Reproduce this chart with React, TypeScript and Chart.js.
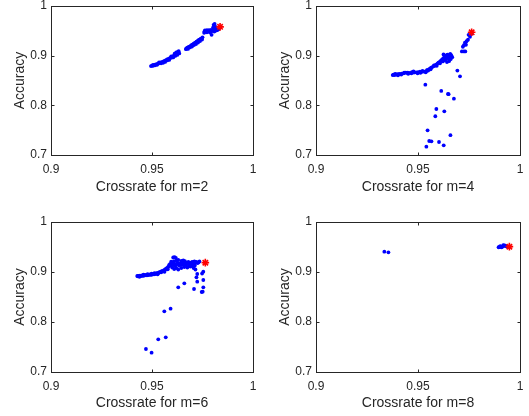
import React, { useEffect, useRef } from 'react';
import { Chart, registerables } from 'chart.js';
Chart.register(...registerables);

// ---------- data ----------
const xTicks = [0.9, 0.95, 1];
const xTickLabels = ['0.9', '0.95', '1'];
const yTicks = [0.7, 0.8, 0.9, 1];
const yTickLabels = ['0.7', '0.8', '0.9', '1'];
const yAxisLabel = 'Accuracy';
const xAxisLabels = ['Crossrate for m=2', 'Crossrate for m=4', 'Crossrate for m=6', 'Crossrate for m=8'];

const m2Points: number[][] = [
  [0.9495, 0.879], [0.95, 0.880], [0.9505, 0.8795], [0.951, 0.881], [0.9515, 0.882], [0.952, 0.8825],
  [0.9525, 0.883], [0.953, 0.884], [0.9535, 0.8845], [0.954, 0.886], [0.9545, 0.8865], [0.955, 0.887],
  [0.9555, 0.888], [0.956, 0.889], [0.9565, 0.890], [0.957, 0.891], [0.9575, 0.8925], [0.958, 0.893],
  [0.9585, 0.894], [0.959, 0.8955], [0.9595, 0.896], [0.96, 0.898], [0.9605, 0.899], [0.961, 0.9005],
  [0.9615, 0.902], [0.962, 0.903], [0.9625, 0.905], [0.963, 0.906], [0.9632, 0.909], [0.9628, 0.9075],
  [0.9668, 0.913], [0.967, 0.9145], [0.9675, 0.916], [0.968, 0.917], [0.9685, 0.918], [0.969, 0.919],
  [0.9695, 0.921], [0.97, 0.922], [0.9705, 0.9235], [0.971, 0.925], [0.9715, 0.926], [0.972, 0.928],
  [0.9725, 0.929], [0.973, 0.931], [0.9735, 0.932], [0.974, 0.934], [0.9745, 0.935], [0.975, 0.937],
  [0.9758, 0.946], [0.976, 0.949], [0.9765, 0.948], [0.977, 0.950], [0.9775, 0.949], [0.978, 0.950],
  [0.9785, 0.948], [0.979, 0.950], [0.9795, 0.9495], [0.98, 0.950], [0.9805, 0.951], [0.981, 0.950],
  [0.9815, 0.9505], [0.982, 0.951], [0.9825, 0.952], [0.983, 0.953], [0.9795, 0.942], [0.9805, 0.962],
  [0.981, 0.964], [0.9815, 0.958], [0.9802, 0.9565],
  [0.9505, 0.8815], [0.9515, 0.8805], [0.9525, 0.8815], [0.9535, 0.8865], [0.9545, 0.8845], [0.9555, 0.8855],
  [0.9565, 0.8875], [0.9575, 0.8905], [0.9585, 0.8915], [0.9595, 0.8985], [0.9605, 0.8965], [0.9615, 0.8995],
  [0.9625, 0.9015], [0.9635, 0.9045], [0.9612, 0.904], [0.962, 0.9065], [0.9678, 0.9135], [0.9688, 0.9165],
  [0.9698, 0.9185], [0.9708, 0.9215], [0.9718, 0.9235], [0.9728, 0.9265], [0.9738, 0.9295], [0.9748, 0.9325],
  [0.9762, 0.951], [0.9772, 0.9515], [0.9782, 0.9515], [0.9792, 0.952], [0.9772, 0.947], [0.9788, 0.9465],
  [0.981, 0.9525], [0.9822, 0.9535], [0.9808, 0.9485],
];
const m2Best: number[][] = [[0.9837, 0.958]];

const m4Points: number[][] = [
  [0.9376, 0.861], [0.938, 0.862], [0.9385, 0.861], [0.939, 0.8625], [0.9395, 0.862], [0.94, 0.863],
  [0.9405, 0.8625], [0.941, 0.8635], [0.942, 0.864], [0.943, 0.8645], [0.944, 0.866], [0.9445, 0.8655],
  [0.945, 0.866], [0.946, 0.8655], [0.947, 0.867], [0.948, 0.866], [0.949, 0.8665], [0.95, 0.867],
  [0.951, 0.868], [0.952, 0.8675], [0.953, 0.868], [0.954, 0.869], [0.955, 0.870], [0.9555, 0.873],
  [0.956, 0.8745], [0.9565, 0.876], [0.957, 0.877], [0.958, 0.879], [0.9585, 0.881], [0.959, 0.882],
  [0.9595, 0.884], [0.96, 0.886], [0.9605, 0.887], [0.961, 0.889], [0.9615, 0.891], [0.962, 0.893],
  [0.9625, 0.895], [0.963, 0.897], [0.9635, 0.899], [0.964, 0.901], [0.9645, 0.902], [0.9625, 0.9025],
  [0.9632, 0.891], [0.9648, 0.896], [0.9655, 0.899], [0.966, 0.893], [0.9652, 0.889], [0.9642, 0.887],
  [0.9663, 0.901], [0.9668, 0.897],
  [0.9388, 0.8635], [0.9402, 0.8605], [0.9418, 0.862], [0.9432, 0.866], [0.9452, 0.8635], [0.9468, 0.8645],
  [0.9478, 0.8685], [0.9498, 0.8645], [0.9512, 0.8655], [0.9522, 0.8695], [0.9538, 0.8665], [0.9545, 0.8715],
  [0.9562, 0.8725], [0.9578, 0.8805], [0.9592, 0.8795], [0.9608, 0.8845], [0.9622, 0.8885], [0.9638, 0.8935],
  [0.9658, 0.9035], [0.9652, 0.8945],
  [0.9715, 0.9085], [0.9725, 0.9085], [0.9732, 0.9085], [0.972, 0.918], [0.9725, 0.921], [0.9735, 0.922],
  [0.973, 0.926], [0.9738, 0.929], [0.9745, 0.932], [0.9755, 0.938], [0.9748, 0.942], [0.9763, 0.944],
  [0.9693, 0.870], [0.9706, 0.8585], [0.9536, 0.8416], [0.9614, 0.829], [0.9647, 0.823], [0.965, 0.8225],
  [0.9676, 0.8134], [0.959, 0.7926], [0.9629, 0.788], [0.9585, 0.778], [0.9547, 0.7497], [0.9659, 0.740],
  [0.9555, 0.7282], [0.9566, 0.7275], [0.9603, 0.7262], [0.9541, 0.7167], [0.9626, 0.7195],
];
const m4Best: number[][] = [[0.9763, 0.947]];

const m6Points: number[][] = [
  [0.9427, 0.892], [0.943, 0.8915], [0.9435, 0.892], [0.944, 0.8925], [0.9445, 0.892], [0.945, 0.893],
  [0.9455, 0.8925], [0.946, 0.893], [0.9465, 0.8935], [0.947, 0.894], [0.9475, 0.8935], [0.948, 0.894],
  [0.9485, 0.8945], [0.949, 0.895], [0.9495, 0.8945], [0.95, 0.895], [0.9505, 0.896], [0.951, 0.8955],
  [0.9515, 0.896], [0.952, 0.897], [0.9525, 0.8975], [0.953, 0.898], [0.9535, 0.899], [0.954, 0.900],
  [0.9545, 0.8995], [0.955, 0.901], [0.9555, 0.902], [0.956, 0.9035], [0.9565, 0.905], [0.957, 0.9065],
  [0.9575, 0.908], [0.958, 0.910], [0.9585, 0.912], [0.959, 0.9135],
  [0.9438, 0.8905], [0.9458, 0.8945], [0.9478, 0.8955], [0.9498, 0.8965], [0.9512, 0.8975], [0.9528, 0.8955],
  [0.9548, 0.9015], [0.9562, 0.9005], [0.9578, 0.9055],
  [0.9585, 0.914], [0.959, 0.916], [0.9595, 0.915], [0.96, 0.917], [0.9605, 0.914], [0.961, 0.916],
  [0.9615, 0.913], [0.962, 0.915], [0.9625, 0.918], [0.963, 0.916], [0.9635, 0.913], [0.964, 0.917],
  [0.9645, 0.915], [0.965, 0.918], [0.9655, 0.914], [0.966, 0.916], [0.9665, 0.919], [0.967, 0.915],
  [0.9675, 0.917], [0.968, 0.920], [0.9685, 0.918], [0.969, 0.916], [0.9695, 0.919], [0.97, 0.920],
  [0.9705, 0.917], [0.971, 0.921], [0.9715, 0.919], [0.972, 0.920], [0.9725, 0.918], [0.973, 0.919],
  [0.9735, 0.921], [0.96, 0.909], [0.961, 0.906], [0.962, 0.908], [0.963, 0.905], [0.9645, 0.908],
  [0.966, 0.910], [0.9675, 0.909], [0.969, 0.911], [0.9605, 0.929], [0.9612, 0.9295], [0.9618, 0.928],
  [0.963, 0.924], [0.9645, 0.922], [0.9655, 0.923], [0.9663, 0.9215], [0.9595, 0.9205], [0.9608, 0.921],
  [0.9622, 0.9225], [0.9685, 0.913], [0.9698, 0.9125], [0.9712, 0.913], [0.9706, 0.908], [0.9715, 0.905],
  [0.9754, 0.9007], [0.9724, 0.896], [0.972, 0.8893], [0.9754, 0.884], [0.9724, 0.8807], [0.9754, 0.8693],
  [0.9708, 0.866], [0.9751, 0.8607], [0.9746, 0.860], [0.966, 0.8773], [0.963, 0.8693], [0.9748, 0.897],
  [0.9561, 0.8213], [0.9592, 0.8267], [0.9531, 0.7653], [0.9568, 0.7693], [0.947, 0.746], [0.9498, 0.7387],
];
const m6Best: number[][] = [[0.9764, 0.9187]];

const m8Points: number[][] = [
  [0.9335, 0.9407], [0.9355, 0.9393],
  [0.9895, 0.9495], [0.99, 0.950], [0.9905, 0.9505], [0.991, 0.9495], [0.9915, 0.951], [0.992, 0.9525],
  [0.9925, 0.953], [0.993, 0.952], [0.9935, 0.951], [0.994, 0.9505], [0.9903, 0.9515], [0.9918, 0.9535],
];
const m8Best: number[][] = [[0.9948, 0.9507]];

// ---------- styling ----------
const FONT = '"Liberation Sans", Arial, Helvetica, sans-serif';
const INK = '#262626';

const boxPlugin = {
  id: 'matlabBox',
  afterDraw(chart: any) {
    const { ctx, chartArea: a, scales } = chart;
    const px = (v: number) => Math.round(v) + 0.5;
    const l = px(a.left), r = px(a.right), t = px(a.top), b = px(a.bottom);
    ctx.save();
    ctx.strokeStyle = INK;
    ctx.lineWidth = 1;
    ctx.strokeRect(l, t, r - l, b - t);
    const tl = 3;
    ctx.beginPath();
    scales.x.ticks.forEach((tk: any) => {
      const x = px(scales.x.getPixelForValue(tk.value));
      ctx.moveTo(x, b); ctx.lineTo(x, b - tl);
      ctx.moveTo(x, t); ctx.lineTo(x, t + tl);
    });
    scales.y.ticks.forEach((tk: any) => {
      const y = px(scales.y.getPixelForValue(tk.value));
      ctx.moveTo(l, y); ctx.lineTo(l + tl, y);
      ctx.moveTo(r, y); ctx.lineTo(r - tl, y);
    });
    ctx.stroke();
    ctx.restore();
  },
};

type PanelProps = {
  left: number; top: number; w: number; h: number;
  area: { l: number; r: number; t: number; b: number };
  points: number[][]; best: number[][]; xLabel: string;
  yTitlePad: number; xTitlePad: number;
};

function Panel(p: PanelProps) {
  const ref = useRef<HTMLCanvasElement | null>(null);
  useEffect(() => {
    if (!ref.current) return;
    const toXY = (a: number[][]) => a.map(([x, y]) => ({ x, y }));
    const zeroPad = (s: any) => { s.paddingTop = 0; s.paddingBottom = 0; s.paddingLeft = 0; s.paddingRight = 0; };
    const chart = new Chart(ref.current, {
      type: 'scatter',
      data: {
        datasets: [
          {
            data: toXY(p.best),
            pointStyle: 'star',
            pointRadius: 3.8,
            borderColor: '#ff0000',
            backgroundColor: '#ff0000',
            borderWidth: 1.6,
          },
          {
            data: toXY(p.points),
            pointStyle: 'circle',
            pointRadius: 1.9,
            borderWidth: 0,
            backgroundColor: '#0000ff',
            borderColor: '#0000ff',
          },
        ],
      },
      options: {
        animation: false,
        responsive: false,
        events: [],
        layout: { padding: { left: 0, top: p.area.t, right: p.w - p.area.r, bottom: 0 } },
        plugins: { legend: { display: false }, tooltip: { enabled: false } },
        scales: {
          x: {
            type: 'linear', min: 0.9, max: 1,
            afterBuildTicks: (s: any) => { s.ticks = xTicks.map((v) => ({ value: v })); },
            afterFit: (s: any) => { s.height = p.h - p.area.b; zeroPad(s); },
            ticks: {
              callback: (_v: any, i: number) => xTickLabels[i],
              font: { family: FONT, size: 12 }, color: INK, padding: 7,
              autoSkip: false, maxRotation: 0, minRotation: 0,
            },
            grid: { display: false, drawTicks: false },
            border: { display: false },
            title: {
              display: true, text: p.xLabel, color: INK,
              font: { family: FONT, size: 14 }, padding: { top: 0, bottom: p.xTitlePad },
            },
          },
          y: {
            type: 'linear', min: 0.7, max: 1,
            afterBuildTicks: (s: any) => { s.ticks = yTicks.map((v) => ({ value: v })); },
            afterFit: (s: any) => { s.width = p.area.l; zeroPad(s); },
            ticks: {
              callback: (_v: any, i: number) => yTickLabels[i],
              font: { family: FONT, size: 12 }, color: INK, padding: 4,
              autoSkip: false,
            },
            grid: { display: false, drawTicks: false },
            border: { display: false },
            title: {
              display: true, text: yAxisLabel, color: INK,
              font: { family: FONT, size: 14 }, padding: { top: p.yTitlePad, bottom: 0 },
            },
          },
        },
      } as any,
      plugins: [boxPlugin],
    });
    return () => chart.destroy();
  }, []);
  return (
    <canvas
      ref={ref}
      width={p.w}
      height={p.h}
      style={{ position: 'absolute', left: p.left, top: p.top, width: p.w, height: p.h }}
    />
  );
}

export default function App() {
  return (
    <div style={{ position: 'absolute', left: 0, top: 0, width: 529, height: 416, background: '#fff' }}>
      <Panel left={0} top={0} w={264} h={208} area={{ l: 51, r: 253, t: 6, b: 155 }}
        points={m2Points} best={m2Best} xLabel={xAxisLabels[0]} yTitlePad={11.5} xTitlePad={12} />
      <Panel left={264} top={0} w={265} h={208} area={{ l: 52, r: 256, t: 6, b: 155 }}
        points={m4Points} best={m4Best} xLabel={xAxisLabels[1]} yTitlePad={12.5} xTitlePad={12} />
      <Panel left={0} top={208} w={264} h={208} area={{ l: 51, r: 253, t: 14, b: 164 }}
        points={m6Points} best={m6Best} xLabel={xAxisLabels[2]} yTitlePad={11.5} xTitlePad={4} />
      <Panel left={264} top={208} w={265} h={208} area={{ l: 52, r: 256, t: 14, b: 164 }}
        points={m8Points} best={m8Best} xLabel={xAxisLabels[3]} yTitlePad={12.5} xTitlePad={4} />
    </div>
  );
}
